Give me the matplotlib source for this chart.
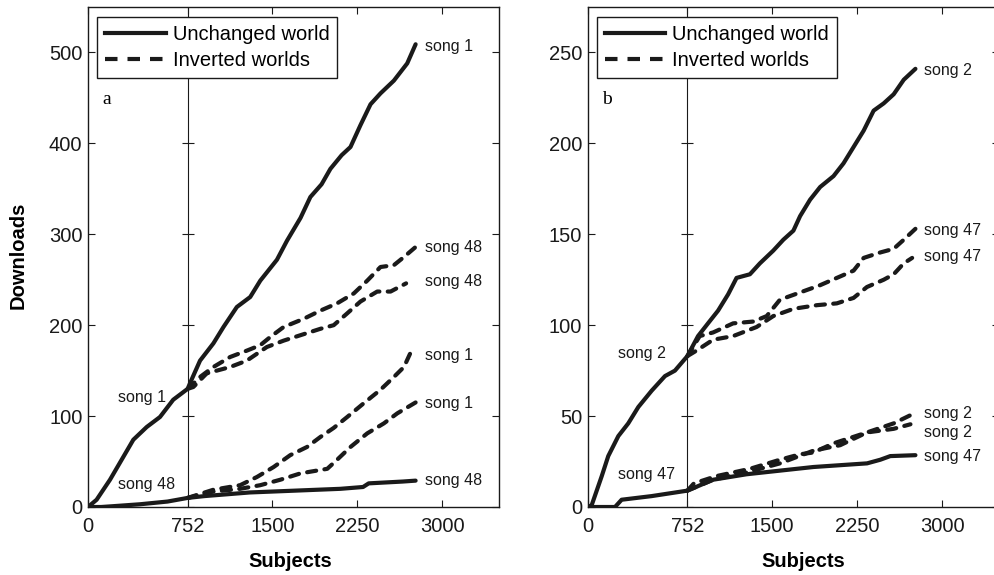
import numpy as np
import matplotlib
matplotlib.use('Agg')
import matplotlib.pyplot as plt
from matplotlib.lines import Line2D

plt.rcParams['font.family'] = ['Liberation Sans', 'DejaVu Sans']

# ---- data (subjects, cumulative downloads) ----
# panel a: song 1 / song 48
a_song1_x = [0, 65, 166, 266, 342, 443, 543, 643, 752, 772, 861, 979, 1068, 1186, 1304, 1393,
             1540, 1629, 1748, 1835, 1934, 2012, 2111, 2189, 2277, 2366, 2454, 2572, 2690, 2764]
a_song1_y = [0, 8, 30, 55, 74, 88, 99, 118, 130, 136, 161, 180, 198, 220, 231, 249,
             272, 293, 318, 341, 355, 372, 387, 396, 420, 443, 455, 469, 488, 509]
a_song48_x = [0, 100, 200, 392, 600, 752, 900, 1100, 1300, 1500, 1700, 1900, 2100, 2300, 2350, 2500, 2650, 2764]
a_song48_y = [0, 0, 1, 3, 6, 10, 12, 14, 16, 17, 18, 19, 20, 22, 26, 27, 28, 29]

a_inv48_hi_x = [752, 772, 861, 979, 1127, 1274, 1393, 1481, 1599, 1776, 1923, 2071, 2219, 2337, 2454, 2572, 2661, 2764]
a_inv48_hi_y = [130, 132, 143, 154, 165, 172, 178, 187, 198, 207, 216, 224, 235, 249, 264, 266, 275, 286]
a_inv48_lo_x = [752, 802, 920, 1127, 1274, 1451, 1599, 1748, 1923, 2041, 2160, 2277, 2425, 2543, 2680]
a_inv48_lo_y = [130, 132, 147, 154, 161, 176, 183, 189, 196, 200, 213, 226, 237, 237, 246]
a_inv1_hi_x = [752, 979, 1215, 1363, 1511, 1657, 1805, 1923, 2041, 2160, 2305, 2454, 2572, 2661, 2720]
a_inv1_hi_y = [10, 19, 24, 33, 44, 57, 66, 77, 87, 99, 114, 129, 143, 154, 170]
a_inv1_lo_x = [752, 979, 1215, 1393, 1570, 1748, 1984, 2071, 2189, 2337, 2484, 2602, 2764]
a_inv1_lo_y = [10, 17, 20, 24, 30, 37, 42, 52, 66, 81, 92, 103, 115]

# panel b: song 2 / song 47
b_song2_x = [0, 30, 106, 155, 231, 306, 382, 483, 583, 658, 752, 846, 934, 1023, 1112, 1186, 1304,
             1392, 1510, 1599, 1688, 1747, 1835, 1924, 2042, 2130, 2219, 2308, 2396, 2485, 2573, 2662, 2765]
b_song2_y = [0, 1, 17, 28, 39, 46, 55, 64, 72, 75, 83, 94, 101, 108, 117, 126, 128,
             134, 141, 147, 152, 160, 169, 176, 182, 189, 198, 207, 218, 222, 227, 235, 241]
b_song47_x = [0, 206, 256, 483, 752, 979, 1274, 1569, 1865, 2101, 2338, 2455, 2543, 2765]
b_song47_y = [0, 0, 4, 6, 9, 15, 18, 20, 22, 23, 24, 26, 28, 28.5]

b_inv47_hi_x = [752, 861, 979, 1156, 1333, 1452, 1569, 1747, 1924, 2071, 2219, 2308, 2455, 2573, 2662, 2765]
b_inv47_hi_y = [83, 94, 96, 101, 102, 105, 114, 118, 122, 126, 130, 137, 140, 142, 147, 153]
b_inv47_lo_x = [752, 832, 979, 1156, 1363, 1510, 1688, 1895, 2071, 2219, 2337, 2485, 2573, 2662, 2736]
b_inv47_lo_y = [83, 86, 92, 94, 99, 105, 109, 111, 112, 115, 121, 125, 128, 134, 137]
b_inv2_hi_x = [752, 810, 1009, 1304, 1569, 1747, 1865, 2042, 2337, 2573, 2721]
b_inv2_hi_y = [9, 13, 17, 21, 26, 29, 30, 35, 41, 46, 50.5]
b_inv2_lo_x = [752, 979, 1274, 1569, 1865, 2101, 2337, 2573, 2721]
b_inv2_lo_y = [9, 15, 19, 24, 31, 34, 41, 43, 45.5]

x_ticks = [0, 752, 1500, 2250, 3000]
a_y_ticks = [0, 100, 200, 300, 400, 500]
b_y_ticks = [0, 50, 100, 150, 200, 250]

a_right_labels = ['song 1', 'song 48', 'song 48', 'song 1', 'song 1', 'song 48']
a_right_label_y = [507, 285, 248, 167, 114, 29]
a_left_labels = ['song 1', 'song 48']
a_left_label_y = [120, 25]
b_right_labels = ['song 2', 'song 47', 'song 47', 'song 2', 'song 2', 'song 47']
b_right_label_y = [240, 152, 137.5, 51.6, 40.7, 27.6]
b_left_labels = ['song 2', 'song 47']
b_left_label_y = [84.6, 17.6]

SPLIT = 752     # the first 752 subjects are drawn a bit wider
STRETCH = 1.17
INK = '#1a1a1a'
LW = 3.0
DASH = (0, (2.2, 2.0))


def fwd(x):
    x = np.asarray(x, dtype=float)
    return np.where(x <= SPLIT, x * STRETCH, SPLIT * STRETCH + (x - SPLIT))


def inv(u):
    u = np.asarray(u, dtype=float)
    return np.where(u <= SPLIT * STRETCH, u / STRETCH, u - SPLIT * STRETCH + SPLIT)


def draw_panel(ax, solid, dashed, yticks, ytop, letter, rlabels, rlabel_y, llabels, llabel_y, xlab_x):
    ax.set_xscale('function', functions=(fwd, inv))
    ax.set_xlim(0, 3500)
    ax.set_ylim(0, ytop)

    ax.axvline(SPLIT, color=INK, lw=0.8, zorder=1)
    # ticks crossing the 752 line
    ax.plot([SPLIT] * len(yticks), yticks, ls='none', marker='_', ms=8, mew=0.8, color=INK, zorder=1)

    for xs, ys in solid:
        ax.plot(xs, ys, color=INK, lw=LW, solid_capstyle='round', solid_joinstyle='round', zorder=3)
    for xs, ys in dashed:
        ax.plot(xs, ys, color=INK, lw=LW, ls=DASH, dash_capstyle='round', dash_joinstyle='round', zorder=2)

    for txt, y in zip(rlabels, rlabel_y):
        ax.text(2845, y, txt, fontsize=11.5, va='center', ha='left', color=INK)
    for txt, y in zip(llabels, llabel_y):
        ax.text(225, y, txt, fontsize=11.5, va='center', ha='left', color=INK)

    ax.text(0.036, 0.816, letter, transform=ax.transAxes, fontsize=14,
            family=['Liberation Serif', 'DejaVu Serif'], va='center', ha='left')

    ax.set_xticks(x_ticks)
    ax.set_xticklabels([str(t) for t in x_ticks])
    ax.set_yticks(yticks)
    ax.xaxis.set_minor_locator(plt.NullLocator())
    ax.tick_params(direction='in', length=5, width=0.8, top=True, right=True,
                   labelsize=14.5, colors=INK)
    ax.tick_params(axis='x', pad=7)
    ax.tick_params(axis='y', pad=4)
    for s in ax.spines.values():
        s.set_linewidth(1.0)
        s.set_color(INK)

    ax.set_xlabel('Subjects', fontsize=14.5, fontweight='bold')
    ax.xaxis.set_label_coords(xlab_x, -0.09)

    handles = [Line2D([], [], color=INK, lw=LW),
               Line2D([], [], color=INK, lw=LW, ls=(0, (3.0, 2.4)))]
    leg = ax.legend(handles, ['Unchanged world', 'Inverted worlds'], loc='upper left',
                    bbox_to_anchor=(0.022, 0.98), borderaxespad=0, fancybox=False,
                    edgecolor=INK, framealpha=1, handlelength=3.0, handletextpad=0.35,
                    labelspacing=0.35, borderpad=0.4, fontsize=14.5)
    leg.get_frame().set_linewidth(1.0)


fig = plt.figure(figsize=(9.95, 5.75), dpi=100)
ax_a = fig.add_axes([88 / 995, 68 / 575, 411 / 995, 500 / 575])
ax_b = fig.add_axes([587.7 / 995, 68 / 575, 411 / 995, 500 / 575])

draw_panel(ax_a,
           [(a_song1_x, a_song1_y), (a_song48_x, a_song48_y)],
           [(a_inv48_hi_x, a_inv48_hi_y), (a_inv48_lo_x, a_inv48_lo_y),
            (a_inv1_hi_x, a_inv1_hi_y), (a_inv1_lo_x, a_inv1_lo_y)],
           a_y_ticks, 550, 'a', a_right_labels, a_right_label_y, a_left_labels, a_left_label_y, 0.491)
draw_panel(ax_b,
           [(b_song2_x, b_song2_y), (b_song47_x, b_song47_y)],
           [(b_inv47_hi_x, b_inv47_hi_y), (b_inv47_lo_x, b_inv47_lo_y),
            (b_inv2_hi_x, b_inv2_hi_y), (b_inv2_lo_x, b_inv2_lo_y)],
           b_y_ticks, 275, 'b', b_right_labels, b_right_label_y, b_left_labels, b_left_label_y, 0.524)

ax_a.set_ylabel('Downloads', fontsize=14.5, fontweight='bold')
ax_a.yaxis.set_label_coords(-0.146, 0.504)

fig.savefig('out.png', dpi=100)
